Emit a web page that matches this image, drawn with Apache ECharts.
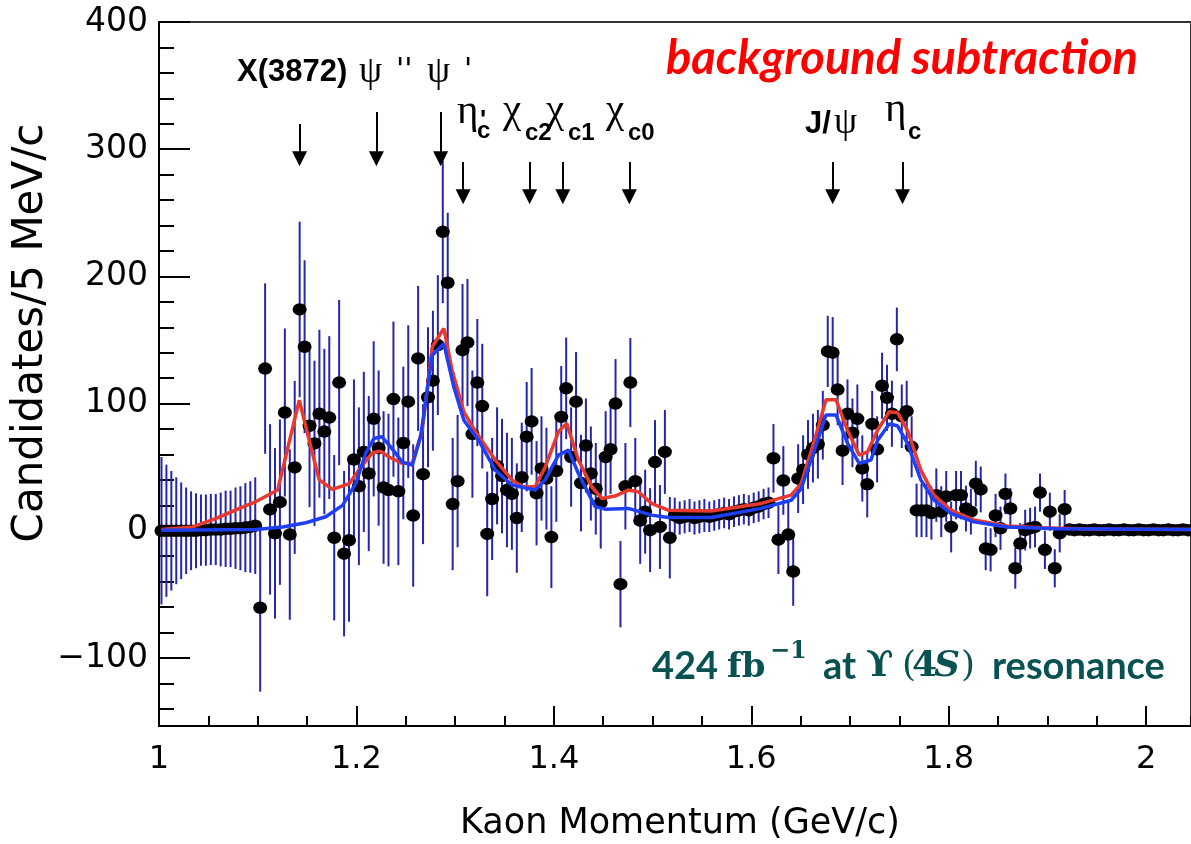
<!DOCTYPE html>
<html>
<head>
<meta charset="utf-8">
<title>Kaon momentum spectrum</title>
<script src="https://cdn.jsdelivr.net/npm/echarts@6.0.0/dist/echarts.min.js"></script>
<style>
html,body{margin:0;padding:0;background:#fff;}
#chart{width:1191px;height:844px;}
</style>
</head>
<body>
<div id="chart"></div>
<script>
// ---------------- data ----------------
const binStart = 1.0;      // GeV/c
const binWidth = 0.005;    // 5 MeV/c bins

const candidates = [
  0,0,0,0,0,0,0,0,0.5,0.5, 1,1,1,1.5,1.5,2,2,2.5,3,4,
  -60.5,127.5,16.8,-2,22.5,93,-3,49.8,174,144.7,
  82.5,68.7,92,78,89,-5.5,116.5,-18,-7.5,56,
  35,62,45,88,65,34,32,103.5,31,69,
  101.5,12,135.5,44.5,105,118,146,235,195,21,
  39,142,148,76,116.5,98,-2.5,25,51,43,
  32,29,10,42,74,86,29.5,49,41,-5,
  47,89.5,112,58,101.5,37.5,67,45,33,22,
  58,64,100,-42,35,116.5,39,8,15,0.5,
  54,3,62,-5.5,12,10,11,12,10,11,
  12,11,12,13,14,13,15,16,17,16,
  18,19,21,22,57,-7,39.5,-3,-32,41,
  48,60,65,68,83,141,140,111,63,92,
  77,88,49,36.5,84,64,114,104.5,92,150.5,
  90,94,66,16,16,16,14,28,15,27,
  3,28,28,17.5,15,37,32.5,-14,-15,12,
  2,29,17.5,-29.5,-10,0.5,2,3,30,-15,
  15,-29.5,-2,17,1,0.5,1,0.5,0.5,1,
  0.5,0.5,1,0.5,0.5,1,0.5,0.5,1,0.5,
  0.5,1,0.5,0.5,1,0.5,0.5,1,0.5
];

const candidateErrors = [
  58,52,47,42,38,34,31,29.5,28,28, 28,28,29,30,30,32,33,35,36,38,
  66,67,67,67,65,66,67,68,69,68,
  64,65,66,65,64,65,65,65,64,63,
  62,63,61,61,61,60,60,61,58,60,
  60,56,57,55,55,55,55,56,55,52,
  52,52,50,50,50,49,49,48,46,45,
  45,44,43,43,43,42,41,41,40,40,
  40,40,40,39,39,38,37,37,36,36,
  36,35,35,34,34,35,34,34,33,33,
  33,33,33,32,14,13,13,13,13,13,
  13,12,12,12,12,12,12,12,12,12,
  12,12,12,12,27,27,27,27,27,27,
  27,27,27,27,27,28,28,28,27,27,
  27,27,26,26,26,26,26,26,26,25,
  25,24,24,21,21,21,21,21,20,20,
  20,19,19,18,18,18,18,17,17,17,
  17,16,16,16,16,16,16,16,15,15,
  15,15,15,15,2.5,2.5,2.5,2.5,2.5,2.5,
  2.5,2.5,2.5,2.5,2.5,2.5,2.5,2.5,2.5,2.5,
  2.5,2.5,2.5,2.5,2.5,2.5,2.5,2.5,2.5
];

// red curve (total fit), read point by point
const totalFit = [
  [1.0024,1],[1.0343,3],[1.0579,9.7],[1.0815,17.6],[1.0983,23],[1.1202,32],
  [1.1421,102.7],[1.1522,71],[1.1623,40],[1.1758,32.5],[1.1926,37],[1.2061,51.6],
  [1.2162,61.3],[1.2246,62.6],[1.2330,58],[1.2465,53],[1.2566,53],[1.2667,79],
  [1.2768,144.7],[1.2886,159],[1.2970,126],[1.3088,93.5],[1.3206,78],[1.3407,55.6],
  [1.3576,40],[1.3677,34.6],[1.3811,34.6],[1.3912,50],[1.4047,78],[1.4131,84.4],
  [1.4249,55.6],[1.4384,34.6],[1.4485,25.4],[1.4620,27.3],[1.4754,32],[1.4855,30.7],
  [1.4990,21.5],[1.5158,16.2],[1.5596,15.5],[1.6101,21.5],[1.6404,28],[1.6505,37],
  [1.6640,71],[1.6757,103],[1.6859,103],[1.6976,79],[1.7094,59.5],[1.7178,62],
  [1.7279,79],[1.7398,93.6],[1.7482,92.8],[1.7583,79],[1.7718,47.7],[1.7852,28],
  [1.8021,16.2],[1.8256,8.4],[1.8593,3.7],[1.8930,2.4],[1.9435,1.3],[2.0455,1]
];

// blue curve, read point by point
const componentFit = [
  [1.0024,0.5],[1.0983,1],[1.1253,3],[1.1488,6.3],[1.1690,11],[1.1859,20],
  [1.1993,37],[1.2094,61],[1.2178,72.6],[1.2256,74],[1.2347,66],[1.2465,54],
  [1.2566,51.6],[1.2650,74],[1.2768,138],[1.2886,147],[1.2987,113],[1.3088,87],
  [1.3239,71],[1.3407,47.7],[1.3576,36],[1.3811,32],[1.3912,40],[1.4047,59.5],
  [1.4148,63.4],[1.4249,45],[1.4418,19],[1.4519,17],[1.4754,17.6],[1.4990,12.3],
  [1.5158,10.5],[1.5596,10.5],[1.6101,17.6],[1.6404,24],[1.6505,33],[1.6640,63.4],
  [1.6757,91],[1.6859,91],[1.6976,68.7],[1.7094,53],[1.7213,55.6],[1.7279,71],
  [1.7398,84],[1.7482,82.5],[1.7583,68.7],[1.7718,40],[1.7852,24],[1.8021,13.6],
  [1.8256,7],[1.8593,3],[1.9098,1.6],[2.0455,1]
];

const xTickValues = [1, 1.2, 1.4, 1.6, 1.8, 2];
const yTickValues = [-100, 0, 100, 200, 300, 400];

// resonance arrows: momentum, arrow top and arrow tip (data units)
const resonanceArrows = [
  ['X(3872)', 1.1424, 319.8, 292.5],
  ['psi(3770)', 1.2202, 329.2, 292.5],
  ['psi(2S)', 1.2853, 329.2, 292.5],
  ['eta_c(2S)', 1.3081, 289.9, 262.6],
  ['chi_c2', 1.3755, 289.9, 262.6],
  ['chi_c1', 1.4091, 289.9, 262.6],
  ['chi_c0', 1.4765, 289.9, 262.6],
  ['J/psi', 1.6825, 289.9, 262.6],
  ['eta_c', 1.7532, 289.9, 262.6]
];

// ---------------- layout / styles ----------------
const X_MIN = 1.0, X_MAX = 2.0455, Y_MIN = -153.5, Y_MAX = 400;

const fonts = {
  bold:   {fontFamily:'Liberation Sans', fontWeight:'bold', fontSize:31, color:'#000'},
  boldJ:  {fontFamily:'Liberation Sans', fontWeight:'bold', fontSize:31, color:'#000'},
  greekL: {fontFamily:'Liberation Serif', fontWeight:'normal', fontSize:37, color:'#000'},
  greek:  {fontFamily:'Liberation Serif', fontWeight:'normal', fontSize:41, color:'#000'},
  prime:  {fontFamily:'DejaVu Sans', fontWeight:'normal', fontSize:30, color:'#000'},
  primeS: {fontFamily:'Liberation Sans', fontWeight:'bold', fontSize:26, color:'#000'},
  sub:    {fontFamily:'Liberation Sans', fontWeight:'bold', fontSize:24, color:'#000'},
  red:    {fontFamily:'Lato', fontWeight:'bold', fontStyle:'italic', fontSize:47, color:'#ff0000'},
  teal:   {fontFamily:'Lato', fontWeight:'bold', fontSize:38, color:'#0a5152'},
  tealSerif: {fontFamily:'DejaVu Serif', fontWeight:'bold', fontSize:34, color:'#0a5152'},
  tealSerifL: {fontFamily:'DejaVu Serif', fontWeight:'bold', fontSize:36, color:'#0a5152'},
  tealSerifR: {fontFamily:'DejaVu Serif', fontWeight:'normal', fontSize:36, color:'#0a5152'},
  tealSerifI: {fontFamily:'DejaVu Serif', fontWeight:'bold', fontStyle:'italic', fontSize:36, color:'#0a5152'},
  tealSup: {fontFamily:'DejaVu Serif', fontWeight:'bold', fontSize:24, color:'#0a5152'}
};

// text fragments: [text, left x, baseline y, font]
const textFragments = [
  ['X(3872)', 237, 83, 'bold'],
  ['ψ', 359, 85, 'greekL'],
  ["''", 396, 82, 'prime'],
  ['ψ', 427, 85, 'greekL'],
  ["'", 464, 82, 'prime'],
  ['η', 457, 127, 'greek'],
  ["'", 480, 130, 'primeS'],
  ['c', 477, 140, 'sub'],
  ['χ', 503, 126, 'greek'],
  ['c2', 525, 142, 'sub'],
  ['χ', 546, 126, 'greek'],
  ['c1', 568, 142, 'sub'],
  ['χ', 606, 126, 'greek'],
  ['c0', 628, 142, 'sub'],
  ['J/', 805, 135, 'boldJ'],
  ['ψ', 834, 136, 'greekL'],
  ['η', 885, 125, 'greek'],
  ['c', 908, 141, 'sub'],
  ['background subtraction', 666, 75, 'red'],
  ['424', 652, 680, 'teal'],
  ['fb', 727, 680, 'tealSerif'],
  ['−1', 770, 660, 'tealSup'],
  ['at', 823, 680, 'teal'],
  ['ϒ', 866, 679, 'tealSerifL'],
  ['(', 902, 679, 'tealSerifR'],
  ['4', 912, 679, 'tealSerifL'],
  ['S', 934, 679, 'tealSerifI'],
  [')', 961, 679, 'tealSerifR'],
  ['resonance', 992, 680, 'teal']
];

function textEl(t, x, baseline, f) {
  const s = fonts[f];
  return {
    type: 'text', silent: true, z: 50,
    x: x, y: baseline - 0.35 * s.fontSize,
    style: {
      text: t, fill: s.color, fontFamily: s.fontFamily, fontWeight: s.fontWeight,
      fontStyle: s.fontStyle || 'normal', fontSize: s.fontSize,
      align: 'left', verticalAlign: 'middle'
    }
  };
}

const graphics = textFragments.map(a => textEl(a[0], a[1], a[2], a[3]));
// axis titles
graphics.push({
  type: 'text', silent: true, z: 50, x: 680, y: 824,
  style: {text: 'Kaon Momentum (GeV/c)', fill: '#000', fontFamily: 'DejaVu Sans', fontSize: 35,
          align: 'center', verticalAlign: 'middle'}
});
graphics.push({
  type: 'text', silent: true, z: 50, x: 31, y: 333, rotation: Math.PI / 2,
  style: {text: 'Candidates/5 MeV/c', fill: '#000', fontFamily: 'DejaVu Sans', fontSize: 42,
          align: 'center', verticalAlign: 'middle'}
});

const binCenters = candidates.map((v, i) => binStart + binWidth * (i + 0.5));
const points = candidates.map((v, i) => [binCenters[i], v]);
const bars = candidates.map((v, i) => [binCenters[i], v, candidateErrors[i]]);

const axisLineStyle = {color: '#000', width: 2};
const fmtY = v => yTickValues.includes(v) ? (v < 0 ? '−' + Math.abs(v) : String(v)) : '';
const fmtX = v => xTickValues.some(t => Math.abs(t - v) < 1e-9) ? String(+v.toFixed(1)) : '';

const chart = echarts.init(document.getElementById('chart'), null, {renderer: 'canvas'});
chart.setOption({
  animation: false,
  backgroundColor: '#fff',
  grid: {left: 159, right: -3, top: 22, bottom: 118, show: true, borderColor: '#333', borderWidth: 2, backgroundColor: 'transparent'},
  xAxis: [
    {
      type: 'value', min: X_MIN, max: X_MAX, minInterval: 0.2, maxInterval: 0.2, position: 'bottom',
      axisLine: {show: true, onZero: false, lineStyle: axisLineStyle},
      axisTick: {show: true, inside: true, length: 20, lineStyle: axisLineStyle},
      axisLabel: {show: true, margin: 18, color: '#000', fontFamily: 'DejaVu Sans', fontSize: 32,
                  formatter: fmtX, showMaxLabel: false},
      splitLine: {show: false}
    },
    {
      type: 'value', min: X_MIN, max: X_MAX, minInterval: 0.05, maxInterval: 0.05, position: 'bottom',
      axisLine: {show: false, onZero: false},
      axisTick: {show: true, inside: true, length: 10, lineStyle: axisLineStyle},
      axisLabel: {show: false}, splitLine: {show: false}
    }
  ],
  yAxis: [
    {
      type: 'value', min: Y_MIN, max: Y_MAX, minInterval: 100, maxInterval: 100, position: 'left',
      axisLine: {show: true, onZero: false, lineStyle: axisLineStyle},
      axisTick: {show: true, inside: true, length: 31, lineStyle: axisLineStyle},
      axisLabel: {show: true, margin: 11, color: '#000', fontFamily: 'DejaVu Sans', fontSize: 33,
                  formatter: fmtY, showMinLabel: false},
      splitLine: {show: false}
    },
    {
      type: 'value', min: Y_MIN, max: Y_MAX, minInterval: 20, maxInterval: 20, position: 'left',
      axisLine: {show: false, onZero: false},
      axisTick: {show: true, inside: true, length: 15, lineStyle: axisLineStyle},
      axisLabel: {show: false}, splitLine: {show: false}
    }
  ],
  series: [
    {
      name: 'errors', type: 'custom', xAxisIndex: 0, yAxisIndex: 0, data: bars, clip: true, silent: true, z: 2,
      renderItem: function (params, api) {
        const x = api.value(0), v = api.value(1), e = api.value(2);
        const p1 = api.coord([x, v - e]), p2 = api.coord([x, v + e]);
        return {type: 'line', shape: {x1: p1[0], y1: p1[1], x2: p2[0], y2: p2[1]},
                style: {stroke: '#2626ad', lineWidth: 2}};
      }
    },
    {
      name: 'candidates', type: 'scatter', xAxisIndex: 0, yAxisIndex: 0, data: points, z: 3, silent: true,
      symbol: 'circle', symbolSize: [14, 12.5], itemStyle: {color: '#000', opacity: 1},
      markLine: {
        silent: true, symbol: ['none', 'triangle'], symbolSize: 15,
        lineStyle: {color: '#000', width: 2, type: 'solid', opacity: 1},
        label: {show: false},
        itemStyle: {color: '#000'},
        data: resonanceArrows.map(a => [{coord: [a[1], a[2]]}, {coord: [a[1], a[3]]}])
      }
    },
    {
      name: 'total fit', type: 'line', xAxisIndex: 0, yAxisIndex: 0, data: totalFit, z: 4, silent: true,
      showSymbol: false, smooth: false, lineStyle: {color: '#e8392e', width: 3.5}
    },
    {
      name: 'component fit', type: 'line', xAxisIndex: 0, yAxisIndex: 0, data: componentFit, z: 5, silent: true,
      showSymbol: false, smooth: false, lineStyle: {color: '#1f3ff5', width: 3.5}
    }
  ],
  graphic: graphics
});
</script>
</body>
</html>
